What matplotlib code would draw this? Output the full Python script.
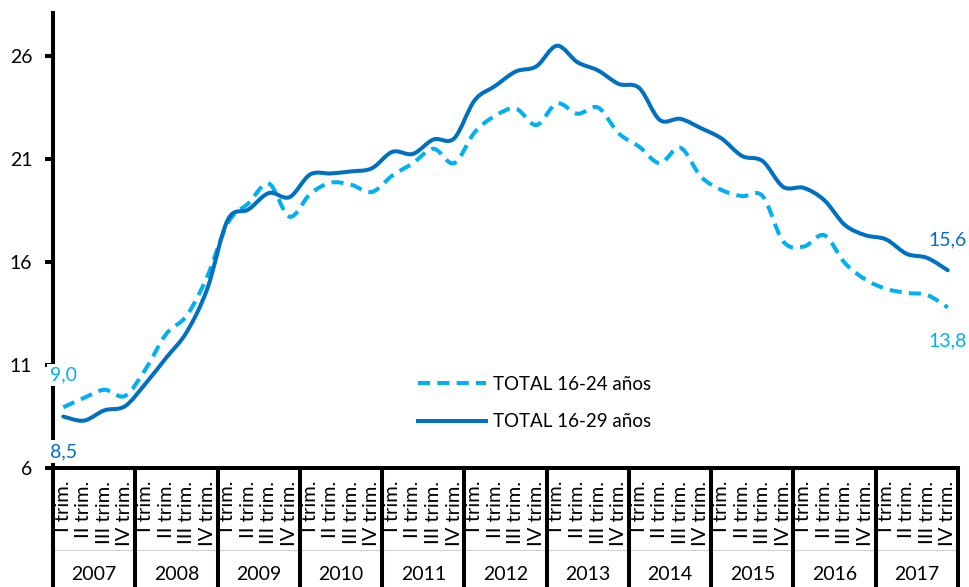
import matplotlib
matplotlib.use("Agg")
import matplotlib.pyplot as plt
from matplotlib.path import Path
from matplotlib.patches import PathPatch
import matplotlib.transforms as mtransforms

plt.rcParams['font.family'] = ['Lato', 'DejaVu Sans']

years = ['2007', '2008', '2009', '2010', '2011', '2012', '2013', '2014', '2015', '2016', '2017']
quarters = ['I trim.', 'II trim.', 'III trim.', 'IV trim.']

# paro juvenil, % (lectura del grafico)
total_16_24 = [8.95, 9.4, 9.8, 9.5, 10.8, 12.5, 13.4, 15.3,
               17.9, 18.85, 19.8, 18.2, 19.3, 19.85, 19.75, 19.4,
               20.2, 20.8, 21.5, 20.8, 22.3, 23.1, 23.45, 22.65,
               23.7, 23.2, 23.5, 22.25, 21.6, 20.8, 21.55, 20.15,
               19.5, 19.2, 19.2, 17.0, 16.75, 17.3, 15.95, 15.15,
               14.7, 14.5, 14.4, 13.8]
total_16_29 = [8.5, 8.3, 8.8, 9.0, 10.1, 11.35, 12.6, 14.7,
               18.05, 18.55, 19.35, 19.15, 20.25, 20.3, 20.4, 20.55,
               21.35, 21.25, 21.95, 22.0, 23.85, 24.55, 25.25, 25.5,
               26.5, 25.7, 25.3, 24.65, 24.45, 22.9, 22.95, 22.5,
               22.0, 21.15, 20.9, 19.65, 19.6, 19.0, 17.8, 17.3,
               17.1, 16.4, 16.2, 15.6]

c_dark = '#0070C0'
c_light = '#00B0F0'


def smooth_path(vals):
    # curva bezier tipo "linea suavizada" de Excel
    pts = list(enumerate(vals))
    verts = [pts[0]]
    codes = [Path.MOVETO]
    n = len(pts)
    for i in range(n - 1):
        p0 = pts[max(i - 1, 0)]
        p1 = pts[i]
        p2 = pts[i + 1]
        p3 = pts[min(i + 2, n - 1)]
        c1 = (p1[0] + (p2[0] - p0[0]) / 6, p1[1] + (p2[1] - p0[1]) / 6)
        c2 = (p2[0] - (p3[0] - p1[0]) / 6, p2[1] - (p3[1] - p1[1]) / 6)
        verts += [c1, c2, p2]
        codes += [Path.CURVE4] * 3
    return Path(verts, codes)


fig = plt.figure(figsize=(9.69, 5.87), dpi=100)
ax = fig.add_axes([53 / 969, (587 - 468) / 587, (958 - 53) / 969, 455 / 587])

n = len(total_16_29)
ax.set_xlim(-0.5, n - 0.5)
ax.set_ylim(6, 28.09)

ax.add_patch(PathPatch(smooth_path(total_16_24), fill=False, edgecolor=c_light,
                       lw=2.9, linestyle=(0, (3, 1.8)), capstyle='butt'))
ax.add_patch(PathPatch(smooth_path(total_16_29), fill=False, edgecolor=c_dark,
                       lw=2.9, capstyle='round'))

# leyenda
ax.plot([], [], color=c_light, lw=2.9, linestyle=(0, (3, 1.8)), label='TOTAL 16-24 años')
ax.plot([], [], color=c_dark, lw=2.9, label='TOTAL 16-29 años')
ax.legend(loc='upper left', bbox_to_anchor=(0.385, 0.24), frameon=False, fontsize=13.5,
          handlelength=3.6, handletextpad=0.4, labelspacing=1.1)

# etiquetas de inicio y fin
bb = dict(facecolor='white', edgecolor='none', pad=2)
ax.annotate('9,0', (0, total_16_24[0]), xytext=(0, 32), textcoords='offset pixels',
            ha='center', va='center', color=c_light, fontsize=14, bbox=bb)
ax.annotate('8,5', (0, total_16_29[0]), xytext=(0, -35), textcoords='offset pixels',
            ha='center', va='center', color=c_dark, fontsize=14, bbox=bb)
ax.annotate('15,6', (n - 1, total_16_29[-1]), xytext=(0, 30), textcoords='offset pixels',
            ha='center', va='center', color=c_dark, fontsize=14, annotation_clip=False)
ax.annotate('13,8', (n - 1, total_16_24[-1]), xytext=(0, -34), textcoords='offset pixels',
            ha='center', va='center', color=c_light, fontsize=14, annotation_clip=False)

ax.set_yticks([6, 11, 16, 21, 26])
ax.set_xticks([])
ax.tick_params(axis='y', length=6, width=2.9, pad=9, labelsize=14)
for s in ['top', 'right']:
    ax.spines[s].set_visible(False)
ax.spines['left'].set_linewidth(2.9)
ax.spines['bottom'].set_linewidth(2.9)
ax.spines['left'].set_zorder(1)

# tabla de categorias bajo el eje
tr = mtransforms.blended_transform_factory(ax.transData, ax.transAxes)
y_bot = -(587 - 468) / 455
y_mid = -(550 - 468) / 455
ax.plot([-0.5, n - 0.5], [y_mid, y_mid], transform=tr, color='#d0d0d0', lw=0.8, clip_on=False)
for k in range(len(years) + 1):
    xb = k * 4 - 0.5
    ax.plot([xb, xb], [0, y_bot], transform=tr, color='black', lw=2.9, clip_on=False,
            solid_capstyle='butt')
for k, yr in enumerate(years):
    ax.text(k * 4 + 1.5, -(575 - 468) / 455, yr, transform=tr, ha='center', va='center',
            fontsize=14)
    for q, ql in enumerate(quarters):
        ax.text(k * 4 + q, -(481 - 468) / 455, ql, transform=tr, rotation=90,
                ha='center', va='top', fontsize=14.5)

fig.savefig('out.png', dpi=100)
